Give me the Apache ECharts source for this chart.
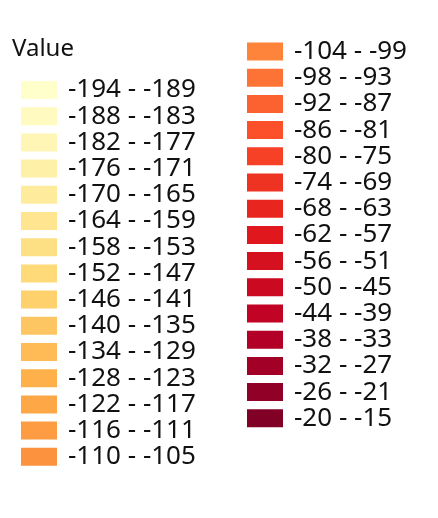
<!DOCTYPE html>
<html>
<head>
<meta charset="utf-8">
<script src="https://cdn.jsdelivr.net/npm/echarts@6/dist/echarts.min.js"></script>
<style>html,body{margin:0;padding:0;background:#fff;}#c{width:438px;height:518px;}</style>
</head>
<body>
<div id="c"></div>
<script>
// Bin lower and upper bounds (legend entries)
const binLow  = [-194,-188,-182,-176,-170,-164,-158,-152,-146,-140,-134,-128,-122,-116,-110,
                 -104,-98,-92,-86,-80,-74,-68,-62,-56,-50,-44,-38,-32,-26,-20];
const binHigh = [-189,-183,-177,-171,-165,-159,-153,-147,-141,-135,-129,-123,-117,-111,-105,
                 -99,-93,-87,-81,-75,-69,-63,-57,-51,-45,-39,-33,-27,-21,-15];
const legendTitle = 'Value';

// YlOrRd colour stops
const stops = ['#ffffcc','#ffeda0','#fed976','#feb24c','#fd8d3c','#fc4e2a','#e31a1c','#bd0026','#800026'];
function hex(c){return [parseInt(c.slice(1,3),16),parseInt(c.slice(3,5),16),parseInt(c.slice(5,7),16)];}
function colorAt(t){
  const p=t*(stops.length-1); const i=Math.min(Math.floor(p),stops.length-2); const f=p-i;
  const a=hex(stops[i]), b=hex(stops[i+1]);
  const m=a.map((v,k)=>Math.round(v+(b[k]-v)*f));
  return 'rgb('+m.join(',')+')';
}
const names = binLow.map((lo,i)=>lo+' - '+binHigh[i]);
const n = names.length;
const series = names.map((nm,i)=>({
  type:'bar', name:nm, data:[], itemStyle:{color:colorAt(i/(n-1)), opacity:1}
}));
const half = Math.ceil(n/2);
const font = 'Noto Sans';
const legendCommon = {
  orient:'vertical', icon:'rect', itemWidth:36, itemHeight:18, itemGap:0.2, padding:0, height:480,
  textStyle:{fontFamily:font, fontSize:26, color:'#111', padding:[0,0,0,6]},
  selectedMode:false
};
const chart = echarts.init(document.getElementById('c'), null, {renderer:'canvas'});
chart.setOption({
  animation:false,
  title:{text:legendTitle, left:12, top:37, padding:0, textStyle:{fontFamily:font, fontSize:24, fontWeight:'normal', color:'#111'}},
  grid:{show:false, left:0, right:0, top:0, bottom:0},
  xAxis:{show:false, type:'category'}, yAxis:{show:false},
  legend:[
    Object.assign({}, legendCommon, {left:21, top:77, data:names.slice(0,half)}),
    Object.assign({}, legendCommon, {left:247, top:38.5, data:names.slice(half)})
  ],
  series:series
});
</script>
</body>
</html>
